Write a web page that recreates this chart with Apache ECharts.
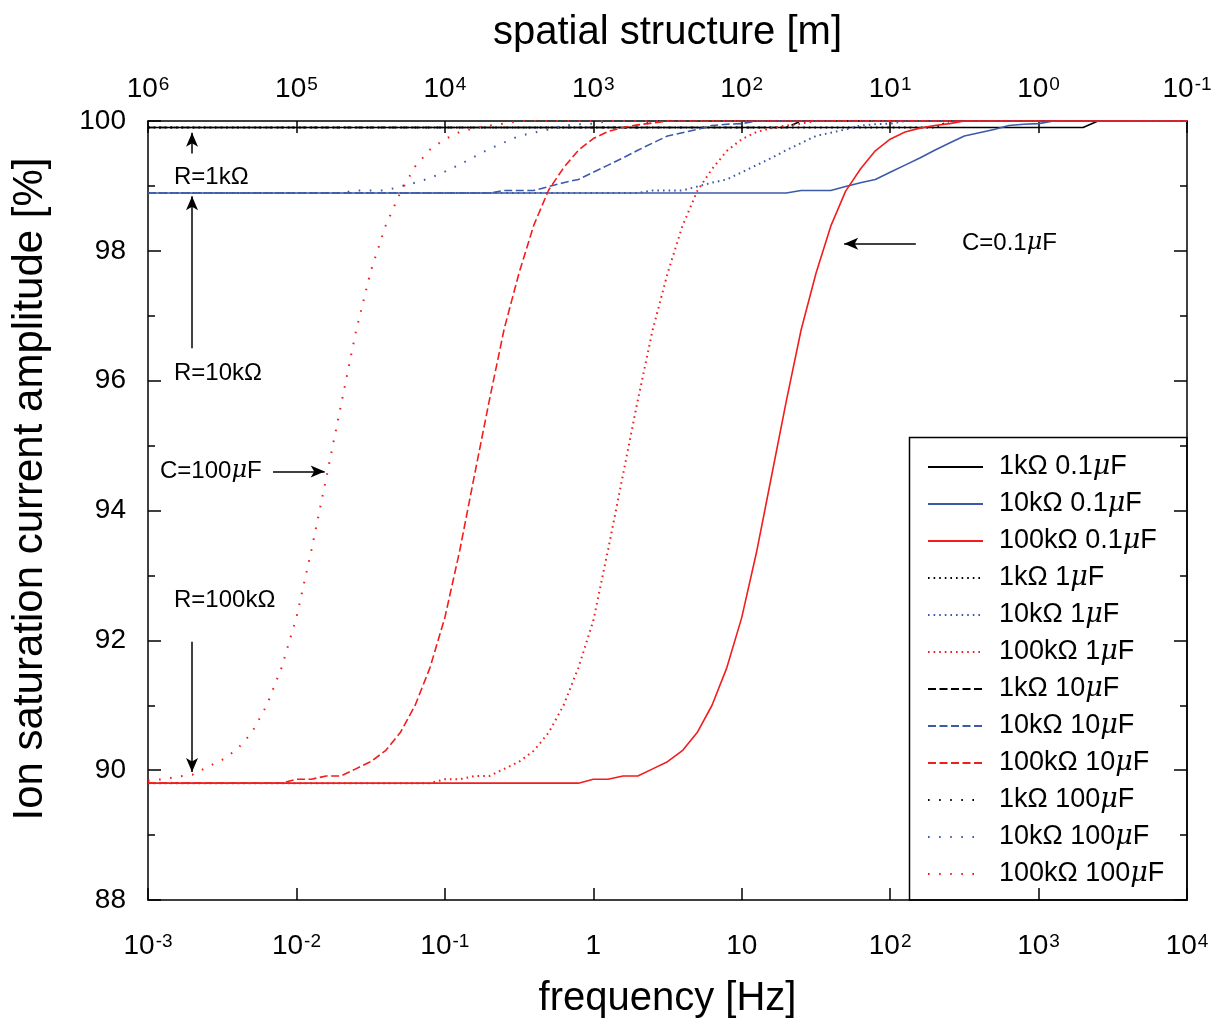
<!DOCTYPE html>
<html>
<head>
<meta charset="utf-8">
<script src="https://cdn.jsdelivr.net/npm/echarts@6/dist/echarts.min.js"></script>
<style>
html,body{margin:0;padding:0;background:#fff;}
#chart{width:1217px;height:1021px;}
</style>
</head>
<body>
<div id="chart"></div>
<script>
// ---------- data (frequency [Hz], amplitude [%]) ----------
const k1_c01 = [[0.001,99.9],[1995,99.9],[2512,100],[10000,100]];
const k10_c01 = [[0.001,98.89],[19.95,98.89],[25.12,98.93],[39.81,98.93],[50.12,98.99],[63.1,99.05],[79.43,99.10],[100,99.21],[125.9,99.32],[158.5,99.43],[199.5,99.55],[251.2,99.66],[316.2,99.77],[398.1,99.82],[501.2,99.87],[631,99.93],[794.3,99.95],[1000,99.96],[1259,100],[10000,100]];
const k100_c01 = [[0.001,89.80],[0.794,89.80],[1.0,89.86],[1.259,89.86],[1.585,89.91],[1.995,89.91],[2.512,90.02],[3.162,90.13],[3.981,90.30],[5.012,90.58],[6.31,91.00],[7.943,91.58],[10,92.35],[12.59,93.36],[15.85,94.52],[19.95,95.68],[25.12,96.78],[31.62,97.65],[39.81,98.38],[50.12,98.92],[63.1,99.26],[79.43,99.54],[100,99.72],[125.9,99.83],[158.5,99.89],[199.5,99.93],[251.2,99.96],[316.2,100],[10000,100]];

const k1_c1 = [[0.001,99.9],[199.5,99.9],[251.2,100],[10000,100]];
const k10_c1 = [[0.001,98.89],[1.995,98.89],[2.512,98.93],[3.981,98.93],[5.012,98.99],[6.31,99.05],[7.943,99.10],[10,99.21],[12.59,99.32],[15.85,99.43],[19.95,99.55],[25.12,99.66],[31.62,99.77],[39.81,99.82],[50.12,99.87],[63.1,99.93],[79.43,99.95],[100,99.96],[125.9,100],[10000,100]];
const k100_c1 = [[0.001,89.80],[0.0794,89.80],[0.1,89.86],[0.1259,89.86],[0.1585,89.91],[0.1995,89.91],[0.2512,90.02],[0.3162,90.13],[0.3981,90.30],[0.5012,90.58],[0.631,91.00],[0.7943,91.58],[1.0,92.30],[1.259,93.40],[1.585,94.55],[1.995,95.70],[2.512,96.78],[3.162,97.65],[3.981,98.38],[5.012,98.92],[6.31,99.26],[7.943,99.54],[10,99.72],[12.59,99.83],[15.85,99.89],[19.95,99.93],[25.12,99.96],[31.62,100],[10000,100]];

const k1_c10 = [[0.001,99.9],[19.95,99.9],[25.12,100],[10000,100]];
const k10_c10 = [[0.001,98.89],[0.1995,98.89],[0.2512,98.93],[0.3981,98.93],[0.5012,98.99],[0.631,99.05],[0.7943,99.10],[1.0,99.21],[1.259,99.32],[1.585,99.43],[1.995,99.55],[2.512,99.66],[3.162,99.77],[3.981,99.82],[5.012,99.87],[6.31,99.93],[7.943,99.95],[10,99.96],[12.59,100],[10000,100]];
const k100_c10 = [[0.001,89.80],[0.00794,89.80],[0.01,89.86],[0.01259,89.86],[0.01585,89.91],[0.01995,89.91],[0.02512,90.02],[0.03162,90.13],[0.03981,90.30],[0.05012,90.58],[0.0631,91.00],[0.07943,91.58],[0.1,92.35],[0.1259,93.38],[0.1585,94.55],[0.1995,95.70],[0.2512,96.80],[0.3162,97.66],[0.3981,98.40],[0.5012,98.94],[0.631,99.28],[0.7943,99.55],[1.0,99.73],[1.259,99.84],[1.585,99.90],[1.995,99.94],[2.512,99.97],[3.162,100],[10000,100]];

const k1_c100 = [[0.001,99.9],[1.995,99.9],[2.512,100],[10000,100]];
const k10_c100 = [[0.001,98.89],[0.01995,98.89],[0.02512,98.93],[0.03981,98.93],[0.05012,98.99],[0.0631,99.05],[0.07943,99.12],[0.1,99.22],[0.1259,99.33],[0.1585,99.45],[0.1995,99.57],[0.2512,99.67],[0.3162,99.77],[0.3981,99.82],[0.5012,99.87],[0.631,99.93],[0.7943,99.95],[1.0,99.96],[1.259,100],[10000,100]];
const k100_c100 = [[0.001,89.84],[0.001259,89.86],[0.001585,89.90],[0.001995,89.93],[0.002512,90.05],[0.003162,90.16],[0.003981,90.32],[0.005012,90.58],[0.00631,91.00],[0.007943,91.58],[0.01,92.35],[0.01259,93.38],[0.01585,94.49],[0.01995,95.62],[0.02512,96.75],[0.03162,97.68],[0.03981,98.38],[0.05012,98.90],[0.0631,99.30],[0.07943,99.56],[0.1,99.72],[0.1259,99.83],[0.1585,99.89],[0.1995,99.93],[0.2512,99.96],[0.3162,100],[10000,100]];

// series names (legend order)
const seriesNames = ['1kΩ 0.1μF','10kΩ 0.1μF','100kΩ 0.1μF','1kΩ 1μF','10kΩ 1μF','100kΩ 1μF','1kΩ 10μF','10kΩ 10μF','100kΩ 10μF','1kΩ 100μF','10kΩ 100μF','100kΩ 100μF'];
const seriesData = [k1_c01,k10_c01,k100_c01,k1_c1,k10_c1,k100_c1,k1_c10,k10_c10,k100_c10,k1_c100,k10_c100,k100_c100];

// axis ticks and labels
const freqTicks = [0.001,0.01,0.1,1,10,100,1000,10000];
const freqTickLabels = [['10','-3'],['10','-2'],['10','-1'],['1',''],['10',''],['10','2'],['10','3'],['10','4']];
const spatialTicks = [1e6,1e5,1e4,1e3,100,10,1,0.1];
const spatialTickLabels = [['10','6'],['10','5'],['10','4'],['10','3'],['10','2'],['10','1'],['10','0'],['10','-1']];

// annotations: arrows [tail] -> [head], in data coordinates
const arrows = [
  [[0.00198,99.50],[0.00198,99.82]],
  [[0.00198,96.50],[0.00198,98.84]],
  [[0.00198,91.98],[0.00198,89.97]],
  [[0.00695,94.60],[0.0155,94.60]],
  [[149,98.11],[49.0,98.11]]
];

// ---------- styles ----------
const FONT = '"Liberation Sans", Arial, sans-serif';
const BLACK = '#000000', BLUE = '#3b5ba8', RED = '#f21d1d';
const colors = [BLACK,BLUE,RED];
const dashes = ['solid',[1.6,4],[8,3.5],[1.6,9.5]];

function labelRich(pair){
  return pair[1] === '' ? '{b|' + pair[0] + '}' : '{b|' + pair[0] + '}{s|' + pair[1] + '}';
}
function idxOf(ticks, v){
  const lv = Math.log10(v);
  for (let i=0;i<ticks.length;i++){ if (Math.abs(Math.log10(ticks[i]) - lv) < 1e-6) return i; }
  return -1;
}
const tickRich = {
  b:{fontSize:28, fontFamily:FONT, color:'#000', lineHeight:28, verticalAlign:'bottom'},
  s:{fontSize:19, fontFamily:FONT, color:'#000', lineHeight:19, verticalAlign:'top', padding:[0,0,14,1]}
};

const series = seriesNames.map((n,i)=>({
  name:n, type:'line', data:seriesData[i], symbol:'none', showSymbol:false,
  xAxisIndex:0, yAxisIndex:0, animation:false, silent:true,
  color: colors[i%3],
  lineStyle:{color:colors[i%3], width: (i<3?1.6:(i>=6&&i<9?1.6:2)), type:dashes[Math.floor(i/3)]},
  itemStyle:{color:colors[i%3]},
  z: 2 + (i%3)
}));
series[0].markLine = {
  silent:true, animation:false, symbol:['none','arrow'], symbolSize:13,
  label:{show:false}, lineStyle:{color:'#000', width:1.5, type:'solid'},
  itemStyle:{color:'#000'},
  emphasis:{disabled:true},
  data: arrows.map(a=>[{coord:a[0], symbol:'none'},{coord:a[1], symbol:'arrow', symbolSize:[9,14]}])
};

const axisLineStyle = {color:'#000', width:1.5};
const muRich = {m:{fontStyle:'italic', fontFamily:'"DejaVu Serif", serif', fontSize:24, fill:'#000'}};

const chart = echarts.init(document.getElementById('chart'), null, {renderer:'canvas'});
chart.setOption({
  animation:false,
  backgroundColor:'#fff',
  grid:{left:148, right:30, top:121, bottom:121, containLabel:false, outerBoundsMode:'none'},
  xAxis:[
    {type:'log', logBase:10, min:0.001, max:10000, splitNumber:7, position:'bottom', gridIndex:0,
     axisLine:{show:true, onZero:false, lineStyle:axisLineStyle},
     axisTick:{show:true, inside:true, length:12, lineStyle:axisLineStyle},
     minorTick:{show:false}, splitLine:{show:false},
     axisLabel:{show:true, margin:32, showMinLabel:true, showMaxLabel:true,
       formatter:(v)=>{const k=idxOf(freqTicks,v); return k<0?'':labelRich(freqTickLabels[k]);}, rich:tickRich},
     name:'frequency [Hz]', nameLocation:'middle', nameGap:79,
     nameTextStyle:{fontSize:40, fontFamily:FONT, color:'#000'}},
    {type:'log', logBase:10, min:0.1, max:1e6, inverse:true, splitNumber:7, position:'top', gridIndex:0,
     axisLine:{show:true, onZero:false, lineStyle:axisLineStyle},
     axisTick:{show:true, inside:true, length:12, lineStyle:axisLineStyle},
     minorTick:{show:false}, splitLine:{show:false},
     axisLabel:{show:true, margin:18, showMinLabel:true, showMaxLabel:true,
       formatter:(v)=>{const k=idxOf(spatialTicks,v); return k<0?'':labelRich(spatialTickLabels[k]);}, rich:tickRich},
     name:'spatial structure [m]', nameLocation:'middle', nameGap:68,
     nameTextStyle:{fontSize:40, fontFamily:FONT, color:'#000'}}
  ],
  yAxis:[
    {type:'value', min:88, max:100, interval:2, position:'left',
     axisLine:{show:true, onZero:false, lineStyle:axisLineStyle},
     axisTick:{show:true, inside:true, length:13, lineStyle:axisLineStyle},
     minorTick:{show:true, splitNumber:2, length:7, lineStyle:axisLineStyle},
     splitLine:{show:false},
     axisLabel:{fontSize:28, fontFamily:FONT, color:'#000', margin:22, padding:[4,0,0,0]}},
    {type:'value', min:88, max:100, interval:2, position:'right',
     axisLine:{show:true, onZero:false, lineStyle:axisLineStyle},
     axisTick:{show:true, inside:true, length:13, lineStyle:axisLineStyle},
     minorTick:{show:true, splitNumber:2, length:7, lineStyle:axisLineStyle},
     splitLine:{show:false}, axisLabel:{show:false}}
  ],
  legend:{
    show:true, orient:'vertical', left:927, top:452, padding:0,
    data:seriesNames, itemWidth:55, itemHeight:14, itemGap:7,
    selectedMode:false,
    itemStyle:{opacity:0, color:'transparent', borderWidth:0},
    formatter:(n)=>'{g|}' + n.replace('μ','{m|μ}'),
    textStyle:{fontSize:27, fontFamily:FONT, color:'#000', lineHeight:30,
      rich:{g:{width:11}, m:{fontSize:27, fontFamily:'"DejaVu Serif", serif', fontStyle:'italic', color:'#000'}}}
  },
  graphic:[
    {type:'rect', silent:true, z:100, shape:{x:909.5, y:437.5, width:277.5, height:462.5},
     style:{fill:null, stroke:'#000', lineWidth:1.5}},
    {type:'text', silent:true, x:30, y:489, rotation:Math.PI/2,
     style:{text:'Ion saturation current amplitude [%]', font:'42px '+FONT, fill:'#000', align:'center', verticalAlign:'middle'}},
    {type:'text', silent:true, left:174, top:165, style:{text:'R=1kΩ', font:'24px '+FONT, fill:'#000'}},
    {type:'text', silent:true, left:174, top:361, style:{text:'R=10kΩ', font:'24px '+FONT, fill:'#000'}},
    {type:'text', silent:true, left:174, top:588, style:{text:'R=100kΩ', font:'24px '+FONT, fill:'#000'}},
    {type:'text', silent:true, left:160, top:459, style:{text:'C=100{m|μ}F', font:'24px '+FONT, fill:'#000', rich:muRich}},
    {type:'text', silent:true, left:962, top:231, style:{text:'C=0.1{m|μ}F', font:'24px '+FONT, fill:'#000', rich:muRich}}
  ],
  series: series
});
</script>
</body>
</html>
